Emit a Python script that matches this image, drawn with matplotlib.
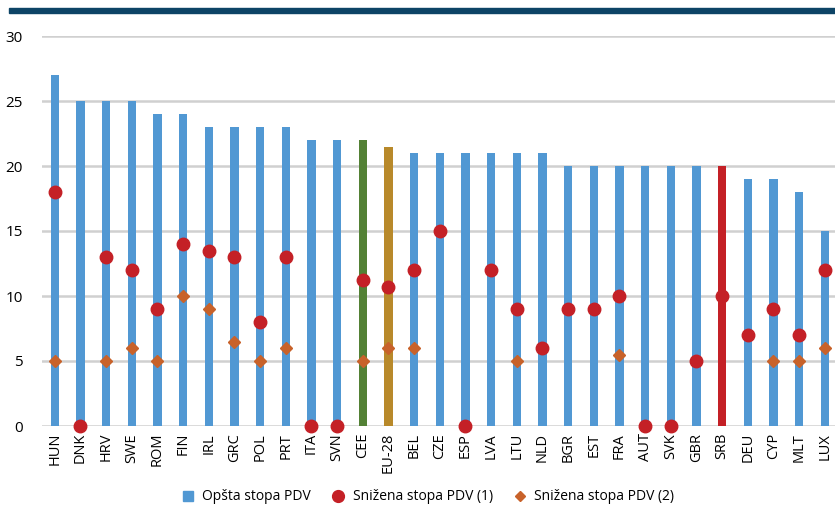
import numpy as np
import matplotlib
matplotlib.use("Agg")
import matplotlib.pyplot as plt
from matplotlib.lines import Line2D
from matplotlib.patches import Rectangle

countries = ["HUN", "DNK", "HRV", "SWE", "ROM", "FIN", "IRL", "GRC", "POL", "PRT",
             "ITA", "SVN", "CEE", "EU-28", "BEL", "CZE", "ESP", "LVA", "LTU", "NLD",
             "BGR", "EST", "FRA", "AUT", "SVK", "GBR", "SRB", "DEU", "CYP", "MLT", "LUX"]
opsta = [27, 25, 25, 25, 24, 24, 23, 23, 23, 23,
         22, 22, 22, 21.5, 21, 21, 21, 21, 21, 21,
         20, 20, 20, 20, 20, 20, 20, 19, 19, 18, 15]
snizena1 = [18, 0, 13, 12, 9, 14, 13.5, 13, 8, 13,
            0, 0, 11.2, 10.7, 12, 15, 0, 12, 9, 6,
            9, 9, 10, 0, 0, 5, 10, 7, 9, 7, 12]
snizena2 = [5, None, 5, 6, 5, 10, 9, 6.5, 5, 6,
            None, None, 5, 6, 6, None, None, None, 5, None,
            None, None, 5.5, None, None, None, None, None, 5, 5, 6]

BLUE = "#5198d3"
RED = "#c42026"
ORANGE = "#c8622a"
special = {"CEE": "#538135", "EU-28": "#b8892a", "SRB": RED}

plt.rcParams["font.family"] = ["Open Sans", "DejaVu Sans"]

fig = plt.figure(figsize=(8.35, 5.15), dpi=100)
ax = fig.add_axes([42 / 835, 89 / 515, 1 - 42 / 835, 390 / 515])

x = np.arange(len(countries))
colors = [special.get(c, BLUE) for c in countries]
ax.bar(x, opsta, width=0.32, color=colors, zorder=2)

ax.plot(x, snizena1, "o", color=RED, markersize=9, zorder=4, clip_on=False)
x2 = [i for i, v in enumerate(snizena2) if v is not None]
y2 = [v for v in snizena2 if v is not None]
ax.plot(x2, y2, "D", color=ORANGE, markersize=6.5, zorder=3, clip_on=False)

ax.set_xlim(-0.5, len(countries) - 0.6)
ax.set_ylim(0, 30)
ax.set_yticks(range(0, 31, 5))
ax.set_xticks(x)
ax.set_xticklabels(countries, rotation=90, fontsize=10.5)
ax.tick_params(axis="y", labelsize=11, length=0, pad=14)
ax.tick_params(axis="x", length=0, pad=5)
ax.grid(axis="y", color="#d0d0d0", linewidth=1.8, zorder=0)
for s in ax.spines.values():
    s.set_visible(False)

# tamna traka na vrhu
fig.patches.append(Rectangle((9 / 835, 1 - 13 / 515), 1, 5 / 515,
                             transform=fig.transFigure, color="#0d4466", zorder=5))

handles = [
    Line2D([], [], marker="s", linestyle="", color=BLUE, markersize=6.5),
    Line2D([], [], marker="o", linestyle="", color=RED, markersize=8.5),
    Line2D([], [], marker="D", linestyle="", color=ORANGE, markersize=5),
]
labels = ["Opšta stopa PDV", "Snižena stopa PDV (1)", "Snižena stopa PDV (2)"]
fig.legend(handles, labels, loc="center", bbox_to_anchor=(0.51, 1 - 497 / 515),
           ncol=3, frameon=False, fontsize=10, handletextpad=0.3, columnspacing=1.2,
           handlelength=1.5)

fig.savefig("out.png", dpi=100)
